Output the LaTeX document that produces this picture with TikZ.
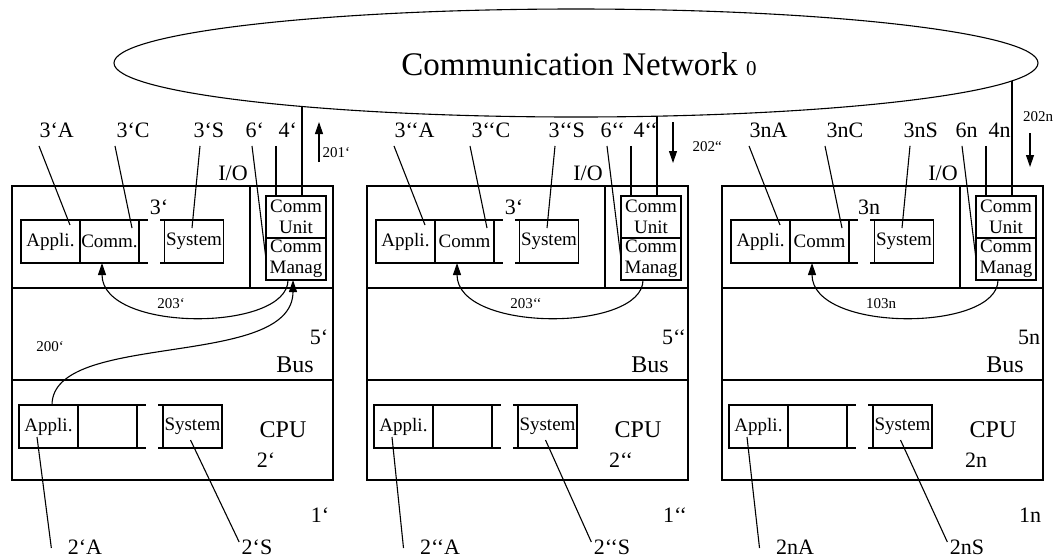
\documentclass[tikz,border=0pt]{standalone}
\usepackage{fontspec}
\setmainfont{Liberation Serif}
\usetikzlibrary{positioning,arrows.meta,shapes.geometric}

\tikzset{
  cell/.style={draw, minimum width=29.5pt, minimum height=21.5pt, inner sep=0pt, outer sep=0pt, font=\fontsize{9.5}{11}\selectfont},
  commbox/.style={draw, minimum width=30pt, minimum height=21pt, inner sep=0pt, outer sep=0pt, align=center, font=\fontsize{9.5}{10.5}\selectfont},
  lbl/.style={inner sep=0pt, font=\fontsize{11}{12}\selectfont},
  biglbl/.style={inner sep=0pt, font=\fontsize{12}{13}\selectfont},
  numlbl/.style={inner sep=0pt, font=\fontsize{7.5}{8}\selectfont},
  arr/.style={-{Triangle[length=6pt,width=4pt]}},
}

\begin{document}
\begin{tikzpicture}[x=0.5pt, y=-0.5pt, line width=0.55pt]
\useasboundingbox (0,0) rectangle (1058,559);
% Netz
\node[draw, ellipse, minimum width=462pt, minimum height=54pt, inner sep=0pt, outer sep=0pt] (net) at (576,63) {};
\node[inner sep=0pt, font=\fontsize{16.5}{18}\selectfont] (nettxt) at (579,64) {Communication Network {\fontsize{10.5}{12}\selectfont 0}};
% Rechner
\foreach \ox/\sfx/\bsfx/\ctext/\rlab [count=\i] in {0/‘/‘/Comm./203‘, 355/‘‘/‘/Comm/203‘‘, 710/n/n/Comm/103n} {
\begin{scope}[shift={({\ox+12},0)}]
  \draw (0,186) rectangle (321,480);
  \draw (0,288) -- (321,288);
  \draw (0,380) -- (321,380);
  \draw (238,186) -- (238,288);
  % Register 3
  \node[cell] (aa\i) at (38.5,241.5) {Appli.};
  \node[cell, right=0pt of aa\i] (ac\i) {\ctext};
  \node[cell] (as\i) at (182,241.5) {System};
  \draw (ac\i.north east) -- ++(9,0) (ac\i.south east) -- ++(9,0);
  \draw (as\i.north west) -- ++(-5,0) (as\i.south west) -- ++(-5,0);
  \node[lbl] (bn\i) at (147,207) {3\bsfx};
  % I/O
  \node[lbl] (io\i) at (221,173) {I/O};
  \node[commbox] (cu\i) at (284,217) {Comm\\Unit};
  \node[commbox, below=0pt of cu\i] (cm\i) {Comm\\Manag};
  % Bezeichner oben
  \node[lbl, anchor=west] (la\i) at (27,130) {3\sfx A};
  \node[lbl, anchor=west] (lc\i) at (104,130) {3\sfx C};
  \node[lbl, anchor=west] (ls\i) at (181,130) {3\sfx S};
  \node[lbl, anchor=west] (l6\i) at (233,130) {6\sfx};
  \node[lbl, anchor=west] (l4\i) at (266,130) {4\sfx};
  \draw ([yshift=-4pt]la\i.south west) -- ([shift={(-10,5)}]aa\i.north east);
  \draw ([shift={(-1,8)}]lc\i.south west) -- ([shift={(-7,8)}]ac\i.north east);
  \draw ([shift={(7,8)}]ls\i.south west) -- ([shift={(-2,8)}]as\i.north);
  \draw ([shift={(7,8)}]l6\i.south west) -- (cm\i.west);
  \coordinate (t4\i) at ([shift={(-2,8)}]l4\i.south west);
  \draw (t4\i) -- (t4\i |- cu\i.north);
  \coordinate (nt\i) at (290,{63+54*sqrt(1-((\ox+302-576)/462)^2)});
  \draw (nt\i) -- (nt\i |- cu\i.north);
  % Bus
  \draw[arr] ([xshift=-4pt]cm\i.south) .. controls +(0,52) and +(0,70) .. ([xshift=-3.75pt]ac\i.south);
  \node[numlbl] (rl\i) at (159,304) {\rlab};
  \node[lbl] (bl\i) at (307,337) {5\sfx};
  \node[biglbl] (bus\i) at (283,365) {Bus};
  % CPU 2
  \node[cell] (ba\i) at (36.5,426.5) {Appli.};
  \node[cell, right=0pt of ba\i] (bb\i) {};
  \node[cell] (bs\i) at (180.5,426.5) {System};
  \draw (bb\i.north east) -- ++(9,0) (bb\i.south east) -- ++(9,0);
  \draw (bs\i.north west) -- ++(-5,0) (bs\i.south west) -- ++(-5,0);
  \node[biglbl] (cpu\i) at (271,430) {CPU};
  \node[lbl] (c2\i) at (254,460) {2\sfx};
  \node[lbl] (c1\i) at (308,515) {1\sfx};
  \node[lbl] (l2a\i) at (73,547) {2\sfx A};
  \node[lbl] (l2s\i) at (245,547) {2\sfx S};
  \draw ([shift={(18,-11)}]ba\i.south west) -- ([shift={(-16,1)}]l2a\i.west);
  \draw ([shift={(-2,-8)}]bs\i.south) -- ([shift={(-2,-5)}]l2s\i.west);
\end{scope}
}
% 200'
\draw[arr] ([xshift=1.75pt]ba1.north) .. controls +(0,-75) and +(0,90) .. ([xshift=-1.5pt]cm1.south);
\node[numlbl] (l200) at (50,347) {200‘};
% Pfeile zum Netz
\coordinate (p1a) at (319,162);
\coordinate (p1b) at (319,122);
\draw[arr] (p1a) -- (p1b);
\node[numlbl, anchor=west] (l201) at (322,153) {201‘};
\coordinate (p2a) at (673,122);
\coordinate (p2b) at (673,163);
\draw[arr] (p2a) -- (p2b);
\node[numlbl, anchor=west] (l202) at (692,147) {202“};
\coordinate (p3a) at (1030,133);
\coordinate (p3b) at (1030,167);
\draw[arr] (p3a) -- (p3b);
\node[numlbl] (l202n) at (1038,117) {202n};
\end{tikzpicture}
\end{document}
